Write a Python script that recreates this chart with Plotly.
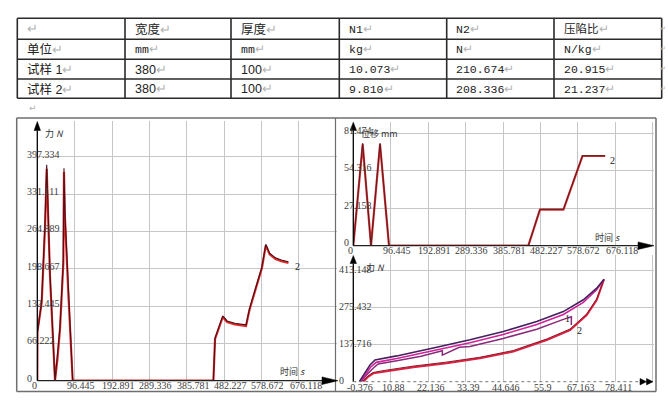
import plotly.graph_objects as go

W, H = 668, 407

# ---------------- data ----------------
# table
tbl_header = ["", "宽度", "厚度", "N1", "N2", "压陷比"]
tbl_unit = ["单位", "mm", "mm", "kg", "N", "N/kg"]
tbl_s1 = ["试样 1", "380", "100", "10.073", "210.674", "20.915"]
tbl_s2 = ["试样 2", "380", "100", "9.810", "208.336", "21.237"]

# left chart: force (N) vs time (s)
force_t1 = [0, 0.5, 11.3, 19.9, 24.3, 32.8, 45.7, 52, 58.6, 67.2, 68.9, 71.4, 80, 91.4,
            454.7, 459, 479, 490, 510, 539, 548, 580, 590, 600, 615, 630, 648.5]
force_f1 = [0, 88, 138, 272, 376, 185, 0, 38, 91, 208, 370, 290, 156, 0,
            0, 74, 113, 104, 100, 97, 126, 200, 240, 224, 216, 212, 209]
force_t2 = [0, 0.5, 11.3, 19.9, 24.3, 32.8, 45.7, 52, 58.6, 67.2, 68.9, 71.4, 80, 91.4,
            454.7, 459, 479, 490, 510, 539, 548, 580, 590, 600, 615, 630, 648.5]
force_f2 = [0, 85, 142, 280, 383, 190, 0, 42, 95, 214, 377, 296, 160, 0,
            0, 76, 115, 106, 102, 99, 128, 202, 242, 226, 218, 214, 211]

# top right: displacement (mm) vs time (s)
disp_t1 = [0, 24.2, 45.6, 68.9, 92, 451, 481, 541.5, 590.5, 649]
disp_d1 = [0, 73.5, 0, 73.5, 0, 0, 26.2, 26.2, 65.0, 65.0]
disp_t2 = [0, 24.2, 45.6, 68.9, 92, 451, 481, 541.5, 590.5, 649]
disp_d2 = [0, 74.2, 0, 74.2, 0, 0, 26.4, 26.4, 65.2, 65.2]

# bottom right: force (N) vs displacement (mm)
fd_xA = [1.43, 3.14, 4.65, 6.15, 12.68, 24.71, 34.72, 44.74, 54.78, 62.78, 68.8, 72.83, 75.02]
fd_yA = [0, 31, 62, 81, 96, 128, 156, 187, 224, 261, 305, 348, 381]
fd_xB = [1.6, 3.3, 4.9, 6.5, 12.7, 24.7, 34.7, 44.7, 54.8, 62.8, 68.8, 72.8, 75.0]
fd_yB = [0, 26, 55, 72, 86, 117, 145, 176, 213, 250, 295, 342, 380]
fd_xC = [2.0, 3.6, 5.6, 7.1, 12.7, 20.0, 26.4, 26.4, 31.5, 34.7, 44.7, 54.8, 62.8, 65.2, 65.2]
fd_yC = [0, 25, 50, 66, 78, 95, 115, 99, 128, 131, 161, 195, 232, 242, 211]
fd_xD = [2.63, 4.14, 5.64, 8.65, 17.67, 27.71, 37.73, 47.74, 57.79, 64.8, 69.82, 72.83, 75.02]
fd_yD = [0, 19, 31, 37, 54, 69, 87, 112, 155, 192, 248, 304, 381]
fd_xE = [2.5, 4.0, 5.5, 8.5, 17.6, 27.7, 37.7, 47.7, 57.8, 64.8, 69.8, 72.8, 75.0]
fd_yE = [0, 21, 34, 41, 58, 73, 91, 116, 159, 196, 252, 308, 381]

time_ticks = ["0", "96.445", "192.891", "289.336", "385.781", "482.227", "578.672", "676.118"]
force_ticks = ["0", "66.222", "132.445", "198.667", "264.889", "331.111", "397.334"]
disp_ticks = ["0", "27.158", "54.316", "81.474"]
force2_ticks = ["0", "137.716", "275.432", "413.148"]
dispx_ticks = ["-0.376", "10.88", "22.136", "33.39", "44.646", "55.9", "67.163", "78.411"]

# ---------------- helpers ----------------
def PX(x):
    return x / W

def PY(y):
    return 1 - y / H

t_step = float(time_ticks[1])
f_step = float(force_ticks[1])
d_step = float(disp_ticks[1])
f2_step = float(force2_ticks[1])
dx0 = float(dispx_ticks[0])
dx_step = float(dispx_ticks[1]) - dx0

# pixel geometry of plot areas
L = dict(x0=37.3, x1=337.0, y0=121.0, y1=380.7, xs=37.35 / t_step, ys=37.33 / f_step)
TR = dict(x0=353.3, x1=654.0, y0=121.7, y1=245.7, xs=37.43 / t_step, ys=37.47 / d_step)
BR = dict(x0=353.3, x1=654.0, y0=255.0, y1=381.7, xs=37.43 / dx_step, ys=37.0 / f2_step)

GRID = "#c6c6c6"
TICKFONT = dict(family="Liberation Serif", size=10, color="#3c3c3c")
TITLEFONT = dict(family="Noto Sans CJK SC", size=9, color="#333333")


def axis_x(g, start, step):
    return dict(domain=[PX(g["x0"]), PX(g["x1"])],
                range=[start, start + (g["x1"] - g["x0"]) / g["xs"]],
                tickvals=[start + k * step for k in range(9)],
                showticklabels=False, showgrid=True, gridcolor=GRID, gridwidth=1,
                zeroline=False, showline=False, ticks="", fixedrange=True)


def axis_y(g, step, n):
    return dict(domain=[PY(g["y1"]), PY(g["y0"])],
                range=[0, (g["y1"] - g["y0"]) / g["ys"]],
                tickvals=[k * step for k in range(n)],
                showticklabels=False, showgrid=True, gridcolor=GRID, gridwidth=1,
                zeroline=False, showline=False, ticks="", fixedrange=True)


fig = go.Figure()

# left chart traces
fig.add_trace(go.Scatter(x=force_t1, y=force_f1, mode="lines", line=dict(color="#e02a2a", width=2.2),
                         xaxis="x", yaxis="y", hoverinfo="skip"))
fig.add_trace(go.Scatter(x=force_t2, y=force_f2, mode="lines", line=dict(color="#4a1018", width=1.1),
                         xaxis="x", yaxis="y", hoverinfo="skip"))
# top right traces
fig.add_trace(go.Scatter(x=disp_t1, y=disp_d1, mode="lines", line=dict(color="#d83434", width=2.2),
                         xaxis="x2", yaxis="y2", hoverinfo="skip"))
fig.add_trace(go.Scatter(x=disp_t2, y=disp_d2, mode="lines", line=dict(color="#5a1a22", width=1.0),
                         xaxis="x2", yaxis="y2", hoverinfo="skip"))
# bottom right traces
fig.add_trace(go.Scatter(x=fd_xD, y=fd_yD, mode="lines", line=dict(color="#e02040", width=2.0),
                         xaxis="x3", yaxis="y3", hoverinfo="skip"))
fig.add_trace(go.Scatter(x=fd_xE, y=fd_yE, mode="lines", line=dict(color="#8a1a2a", width=1.0),
                         xaxis="x3", yaxis="y3", hoverinfo="skip"))
fig.add_trace(go.Scatter(x=fd_xC, y=fd_yC, mode="lines", line=dict(color="#8a2a7a", width=1.5),
                         xaxis="x3", yaxis="y3", hoverinfo="skip"))
fig.add_trace(go.Scatter(x=fd_xB, y=fd_yB, mode="lines", line=dict(color="#d0229a", width=1.6),
                         xaxis="x3", yaxis="y3", hoverinfo="skip"))
fig.add_trace(go.Scatter(x=fd_xA, y=fd_yA, mode="lines", line=dict(color="#46205e", width=1.6),
                         xaxis="x3", yaxis="y3", hoverinfo="skip"))

shapes = []
ann = []


def line_px(x0, y0, x1, y1, color="#000", width=1.2, dash=None):
    d = dict(type="line", xref="paper", yref="paper", x0=PX(x0), y0=PY(y0), x1=PX(x1), y1=PY(y1),
             line=dict(color=color, width=width), layer="above")
    if dash:
        d["line"]["dash"] = dash
    shapes.append(d)


def tri(points, color="#000"):
    path = "M " + " L ".join(f"{PX(x)},{PY(y)}" for x, y in points) + " Z"
    shapes.append(dict(type="path", xref="paper", yref="paper", path=path,
                       fillcolor=color, line=dict(color=color, width=0.5), layer="above"))


def text_px(x, y, s, font, xanchor="left"):
    ann.append(dict(x=PX(x), y=PY(y), xref="paper", yref="paper", text=s, showarrow=False,
                    xanchor=xanchor, yanchor="middle", font=font))

# ---------------- table ----------------
col_x = [17.3, 125, 231, 339.3, 446.7, 554, 661.7]
row_y = [18.3, 39.3, 59.3, 79, 98.3]
for x in col_x:
    line_px(x, row_y[0], x, row_y[-1], color="#2a2a2a", width=1.6)
for y in row_y:
    line_px(col_x[0], y, col_x[-1], y, color="#2a2a2a", width=1.6)

PM = "<span style='color:#b4b4b4'>↵</span>"
rows = [tbl_header, tbl_unit, tbl_s1, tbl_s2]
for r, row in enumerate(rows):
    yc = (row_y[r] + row_y[r + 1]) / 2
    for c, val in enumerate(row):
        if c >= 3 or (r == 1 and c > 0):
            fam = "Liberation Mono, Noto Sans CJK SC"
            size = 11.5
        else:
            fam = "Liberation Sans, Noto Sans CJK SC"
            size = 12.5
        text_px(col_x[c] + 7.5, yc + 0.5, val + PM, dict(family=fam, size=size, color="#222222"))
    text_px(668, yc, "↵", dict(family="DejaVu Sans", size=7, color="#b0b0b0"), xanchor="right")
text_px(27, 108, "↵", dict(family="DejaVu Sans", size=9, color="#b0b0b0"))

# ---------------- chart frames ----------------
FR = "#6e6e6e"
line_px(16.7, 118.0, 656.0, 118.0, FR, 1.5)
line_px(16.7, 391.5, 656.0, 391.5, FR, 1.5)
line_px(16.7, 118.0, 16.7, 391.5, FR, 1.5)
line_px(656.0, 118.0, 656.0, 391.5, FR, 1.5)
line_px(335.5, 118.0, 335.5, 391.5, FR, 1.2)

# ---------------- axes lines + arrows ----------------
for g, yarrow_base in [(L, 130.5), (TR, 130.5), (BR, 263.5)]:
    line_px(g["x0"], g["y1"], g["x0"], yarrow_base, "#000", 1.3)
    tri([(g["x0"], g["y0"] + 0.5), (g["x0"] - 3.2, yarrow_base), (g["x0"] + 3.2, yarrow_base)])
line_px(L["x0"], L["y1"], 322, L["y1"], "#222", 1.2)
tri([(338, L["y1"]), (322, L["y1"] - 3.8), (322, L["y1"] + 3.8)])
line_px(TR["x0"], TR["y1"], 638, TR["y1"], "#222", 1.2)
tri([(654, TR["y1"]), (638, TR["y1"] - 3.8), (638, TR["y1"] + 3.8)])
line_px(BR["x0"], BR["y1"], 640, BR["y1"], "#777", 1.0, dash="dot")
tri([(646.5, BR["y1"]), (640, BR["y1"] - 3.2), (640, BR["y1"] + 3.2)])
tri([(653, BR["y1"]), (646.5, BR["y1"] - 3.2), (646.5, BR["y1"] + 3.2)])

# ---------------- tick labels ----------------
def xlabels(labels, xref, ypx, shift, first_shift):
    for k, lab in enumerate(labels):
        ann.append(dict(x=float(lab), y=PY(ypx), xref=xref, yref="paper", text=lab, showarrow=False,
                        xanchor="center", yanchor="middle", xshift=first_shift if k == 0 else shift,
                        font=TICKFONT))


def ylabels(labels, yref, xpx, shift):
    for lab in labels:
        ann.append(dict(x=PX(xpx), y=float(lab), xref="paper", yref=yref, text=lab, showarrow=False,
                        xanchor="left", yanchor="middle", yshift=shift, font=TICKFONT))

xlabels(time_ticks, "x", 385.5, 6.5, -3)
ylabels(force_ticks, "y", 25.0, 2.5)
xlabels(time_ticks, "x2", 250.5, 6.0, -3)
ylabels(disp_ticks, "y2", 341.5, 3.0)
xlabels(dispx_ticks, "x3", 387.0, 3.0, 7)
ylabels(force2_ticks, "y3", 336.5, 1.5)

# ---------------- axis titles ----------------
text_px(43, 133, "力 <i>N</i>", TITLEFONT)
text_px(278, 371.5, "时间 <i>s</i>", TITLEFONT)
text_px(359, 133.5, "位移 mm", TITLEFONT)
text_px(593, 237.5, "时间 <i>s</i>", TITLEFONT)
text_px(364, 267, "力 <i>N</i>", TITLEFONT)

# ---------------- series labels ----------------
SERFONT = dict(family="Liberation Serif", size=10, color="#222222")
ann.append(dict(x=672, y=202, xref="x", yref="y", text="2", showarrow=False, font=SERFONT))
ann.append(dict(x=669, y=61.6, xref="x2", yref="y2", text="2", showarrow=False, font=SERFONT))
ann.append(dict(x=67.6, y=192, xref="x3", yref="y3", text="2", showarrow=False, font=SERFONT))
ann.append(dict(x=64.0, y=236, xref="x3", yref="y3", text="1", showarrow=False, font=SERFONT))

fig.update_layout(
    width=W, height=H, margin=dict(l=0, r=0, t=0, b=0),
    paper_bgcolor="white", plot_bgcolor="white", showlegend=False,
    xaxis=dict(axis_x(L, 0, t_step), anchor="y"),
    yaxis=dict(axis_y(L, f_step, 7), anchor="x"),
    xaxis2=dict(axis_x(TR, 0, t_step), anchor="y2"),
    yaxis2=dict(axis_y(TR, d_step, 4), anchor="x2"),
    xaxis3=dict(axis_x(BR, dx0, dx_step), anchor="y3"),
    yaxis3=dict(axis_y(BR, f2_step, 4), anchor="x3"),
    shapes=shapes, annotations=ann,
)

fig.write_html("out.html", config={"displayModeBar": False},
               post_script="document.body.style.margin='0px';")
